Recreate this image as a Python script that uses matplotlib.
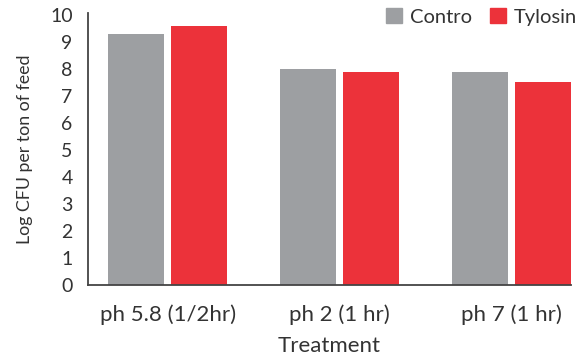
import matplotlib
matplotlib.use("Agg")
import matplotlib.pyplot as plt
import numpy as np
from matplotlib.patches import Patch

categories = ["ph 5.8 (1/2hr)", "ph 2 (1 hr)", "ph 7 (1 hr)"]
control = [9.3, 8.0, 7.9]
tylosin = [9.6, 7.9, 7.5]
series_names = ["Contro", "Tylosin"]
yticks = list(range(0, 11))

GRAY = "#9d9fa2"
RED = "#ec323a"
TEXT = "#333333"

plt.rcParams['font.family'] = ['Lato', 'DejaVu Sans']

fig = plt.figure(figsize=(5.88, 3.61), dpi=100)
ax = fig.add_axes([88/588, (361-285)/361, (571-88)/588, (285-13)/361])

x = np.arange(len(categories))
w = 0.322
off = 0.183
ax.bar(x - off, control, width=w, color=GRAY, label=series_names[0])
ax.bar(x + off, tylosin, width=w, color=RED, label=series_names[1])

ax.set_xlim(-0.463, 2.346)
ax.set_ylim(0, 10.07)
ax.set_yticks(yticks)
ax.set_xticks(x)
ax.set_xticklabels(categories, fontsize=16, color=TEXT)
ax.tick_params(axis='y', length=0, pad=11, labelsize=14, labelcolor=TEXT)
ax.tick_params(axis='x', length=0, pad=14, labelcolor=TEXT)
for s in ["top", "right"]:
    ax.spines[s].set_visible(False)
for s in ["left", "bottom"]:
    ax.spines[s].set_color("#444444")
    ax.spines[s].set_linewidth(1.3)

ax.set_xlabel("Treatment", fontsize=16, color=TEXT, labelpad=8)
ax.set_ylabel("Log CFU per ton of feed", fontsize=12.8, color=TEXT, labelpad=12)

handles = [Patch(color=GRAY), Patch(color=RED)]
leg = fig.legend(handles, series_names, loc="upper right", bbox_to_anchor=(577/588, 1 - 8/361),
                 ncol=2, frameon=False, fontsize=14.5, handlelength=0.78, handleheight=0.78,
                 handletextpad=0.4, columnspacing=0.9, labelcolor=TEXT,
                 borderpad=0, borderaxespad=0)

fig.savefig("out.png", dpi=100)
